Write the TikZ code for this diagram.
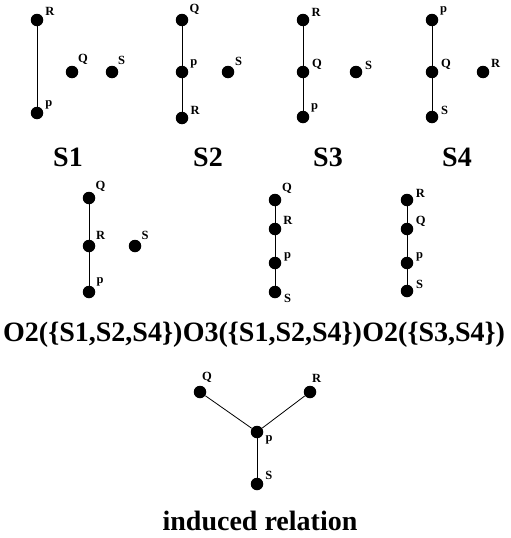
\documentclass[tikz,border=0pt]{standalone}
\usepackage{fontspec}
\setmainfont{Liberation Serif}
\usetikzlibrary{positioning}

\tikzset{
  vtx/.style={circle, fill=black, inner sep=0pt, minimum size=12.5pt},
  tag/.style={font=\fontsize{12.5}{14}\selectfont\bfseries, inner sep=0.5pt},
  every label/.style={tag},
  big/.style={font=\fontsize{28}{32}\selectfont\bfseries, inner sep=0pt},
  edge/.style={black, line width=0.8pt},
}

\begin{document}
\begin{tikzpicture}[x=1pt, y=-1pt, label distance=2pt]
        \useasboundingbox (0,0) rectangle (511,538);
        % S1
        \node[vtx, label=25:R] (a1) at (37,20) {};
        \node[vtx, label=25:p] (a2) at (37,113) {};
        \node[vtx, label=50:Q] (a3) at (72,72) {};
        \node[vtx, label=50:S] (a4) at (112,72) {};
        \draw[edge] (a1) -- (a2);
        \node[big] (t1) at (68,157) {S1};
        % S2
        \node[vtx, label=35:Q] (b1) at (182,20) {};
        \node[vtx, label=25:p] (b2) at (182,72) {};
        \node[vtx, label=20:R] (b3) at (182,118) {};
        \node[vtx, label=40:S] (b4) at (228,72) {};
        \draw[edge] (b1) -- (b2) -- (b3);
        \node[big] (t2) at (208,157) {S2};
        % S3
        \node[vtx, label=20:R] (c1) at (303,20) {};
        \node[vtx, label=10:Q] (c2) at (303,72) {};
        \node[vtx, label=30:p] (c3) at (303,117) {};
        \node[vtx, label=10:S] (c4) at (356,72) {};
        \draw[edge] (c1) -- (c2) -- (c3);
        \node[big] (t3) at (328,157) {S3};
        % S4
        \node[vtx, label=30:p] (d1) at (432,20) {};
        \node[vtx, label=10:Q] (d2) at (432,72) {};
        \node[vtx, label=10:S] (d3) at (432,117) {};
        \node[vtx, label=30:R] (d4) at (483,72) {};
        \draw[edge] (d1) -- (d2) -- (d3);
        \node[big] (t4) at (457,157) {S4};
        % orders
        \node[vtx, label=45:Q] (e1) at (89,198) {};
        \node[vtx, label=40:R] (e2) at (89,246) {};
        \node[vtx, label=35:p] (e3) at (89,292) {};
        \node[vtx, label=45:S] (e4) at (135,246) {};
        \draw[edge] (e1) -- (e2) -- (e3);
        \node[vtx, label=40:Q] (f1) at (275,200) {};
        \node[vtx, label=25:R] (f2) at (275,229) {};
        \node[vtx, label=10:p] (f3) at (275,263) {};
        \node[vtx, label=-10:S] (f4) at (275,292) {};
        \draw[edge] (f1) -- (f2) -- (f3) -- (f4);
        \node[vtx, label=15:R] (g1) at (407,200) {};
        \node[vtx, label=15:Q] (g2) at (407,229) {};
        \node[vtx, label=10:p] (g3) at (407,263) {};
        \node[vtx, label=10:S] (g4) at (407,291) {};
        \draw[edge] (g1) -- (g2) -- (g3) -- (g4);
        \node[big, anchor=west] (o1) at (3,335) {O2(\{S1,S2,S4\})};
        \node[big, right=0pt of o1] (o2) {O3(\{S1,S2,S4\})};
        \node[big, right=0pt of o2] (o3) {O2(\{S3,S4\})};
        % induced
        \node[vtx, label=80:Q] (h1) at (200,392) {};
        \node[vtx, label=80:R] (h2) at (310,392) {};
        \node[vtx, label=-20:p] (h3) at (257,432) {};
        \node[vtx, label=25:S] (h4) at (257,484) {};
        \draw[edge] (h1) -- (h3) -- (h2);
        \draw[edge] (h3) -- (h4);
        \node[big] (t5) at (260,521) {induced relation};
\end{tikzpicture}
\end{document}
